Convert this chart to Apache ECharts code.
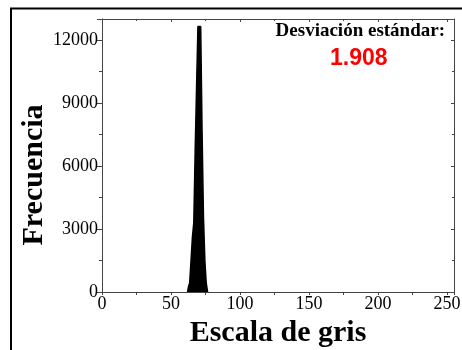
<!DOCTYPE html>
<html>
<head>
<meta charset="utf-8">
<script src="https://cdn.jsdelivr.net/npm/echarts@6/dist/echarts.min.js"></script>
<style>
html,body{margin:0;padding:0;background:#fff;}
#c{width:462px;height:350px;}
</style>
</head>
<body>
<div id="c"></div>
<script>
const grayLevels = [62, 63, 64, 65, 66, 67, 68, 69, 70, 71, 72, 73, 74, 75, 76, 77];
const frequencies = [0, 200, 430, 1500, 2620, 3300, 6740, 9740, 12640, 12640, 12640, 7600, 3600, 1520, 430, 0];
const stdLabel = 'Desviación estándar:';
const stdValue = '1.908';
const xTitle = 'Escala de gris';
const yTitle = 'Frecuencia';

const serif = '"Liberation Serif", "Times New Roman", serif';
const chart = echarts.init(document.getElementById('c'), null, {renderer: 'canvas'});
const axisColor = '#444';
const data = grayLevels.map((g, i) => [g, frequencies[i]]);

chart.setOption({
  animation: false,
  backgroundColor: '#fff',
  grid: {left: 102, top: 19, right: 8, bottom: 58, containLabel: false, outerBoundsMode: 'none'},
  xAxis: [{
    type: 'value', min: 0, max: 255, interval: 50,
    name: xTitle, nameLocation: 'middle', nameGap: 26,
    nameTextStyle: {fontFamily: serif, fontWeight: 'bold', fontSize: 30, color: '#000'},
    axisLine: {show: true, lineStyle: {color: axisColor, width: 1}},
    axisTick: {show: true, inside: false, length: 3, lineStyle: {color: axisColor}},
    minorTick: {show: true, splitNumber: 2, length: 3, lineStyle: {color: axisColor}},
    splitLine: {show: false},
    axisLabel: {fontFamily: serif, fontSize: 18, color: '#000', margin: 3, showMaxLabel: false,
      formatter: v => String(v)}
  }, {
    type: 'value', min: 0, max: 255, interval: 50, position: 'top',
    axisLine: {show: true, onZero: false, lineStyle: {color: axisColor, width: 1}},
    axisTick: {show: true, inside: true, length: 3, lineStyle: {color: axisColor}},
    minorTick: {show: true, splitNumber: 2, length: 2, lineStyle: {color: axisColor}},
    splitLine: {show: false},
    axisLabel: {show: false}
  }],
  yAxis: [{
    type: 'value', min: 0, max: 13000, interval: 3000,
    axisLine: {show: true, lineStyle: {color: axisColor, width: 1}},
    axisTick: {show: true, inside: false, length: 5, lineStyle: {color: axisColor}},
    minorTick: {show: true, splitNumber: 2, length: 3, lineStyle: {color: axisColor}},
    splitLine: {show: false},
    axisLabel: {fontFamily: serif, fontSize: 18, color: '#000', margin: 4, showMaxLabel: false,
      formatter: v => String(v)}
  }, {
    type: 'value', min: 0, max: 13000, interval: 3000, position: 'right',
    axisLine: {show: true, onZero: false, lineStyle: {color: axisColor, width: 1}},
    axisTick: {show: true, inside: true, length: 3, lineStyle: {color: axisColor}},
    minorTick: {show: true, splitNumber: 2, length: 2, lineStyle: {color: axisColor}},
    splitLine: {show: false},
    axisLabel: {show: false}
  }],
  series: [{
    type: 'line',
    step: 'middle',
    data: data,
    symbol: 'none',
    lineStyle: {color: '#000', width: 1.5},
    areaStyle: {color: '#000', opacity: 1},
    z: 1
  }],
  graphic: [
    {type: 'rect', shape: {x: 11, y: 8.5, width: 480, height: 400}, style: {fill: 'none', stroke: '#000', lineWidth: 2}, silent: true, z: 0},
    {type: 'text', x: 34, y: 175, rotation: Math.PI / 2,
      style: {text: yTitle, font: 'bold 30px ' + serif, fill: '#000', align: 'center', verticalAlign: 'middle'}, z: 10},
    {type: 'text', right: 17, top: 22, style: {text: stdLabel, font: 'bold 19px ' + serif, fill: '#000'}, z: 10},
    {type: 'text', left: 330, top: 47, style: {text: stdValue, font: 'bold 23px "Liberation Sans", Arial, sans-serif', fill: '#ff0000'}, z: 10}
  ]
});
</script>
</body>
</html>
